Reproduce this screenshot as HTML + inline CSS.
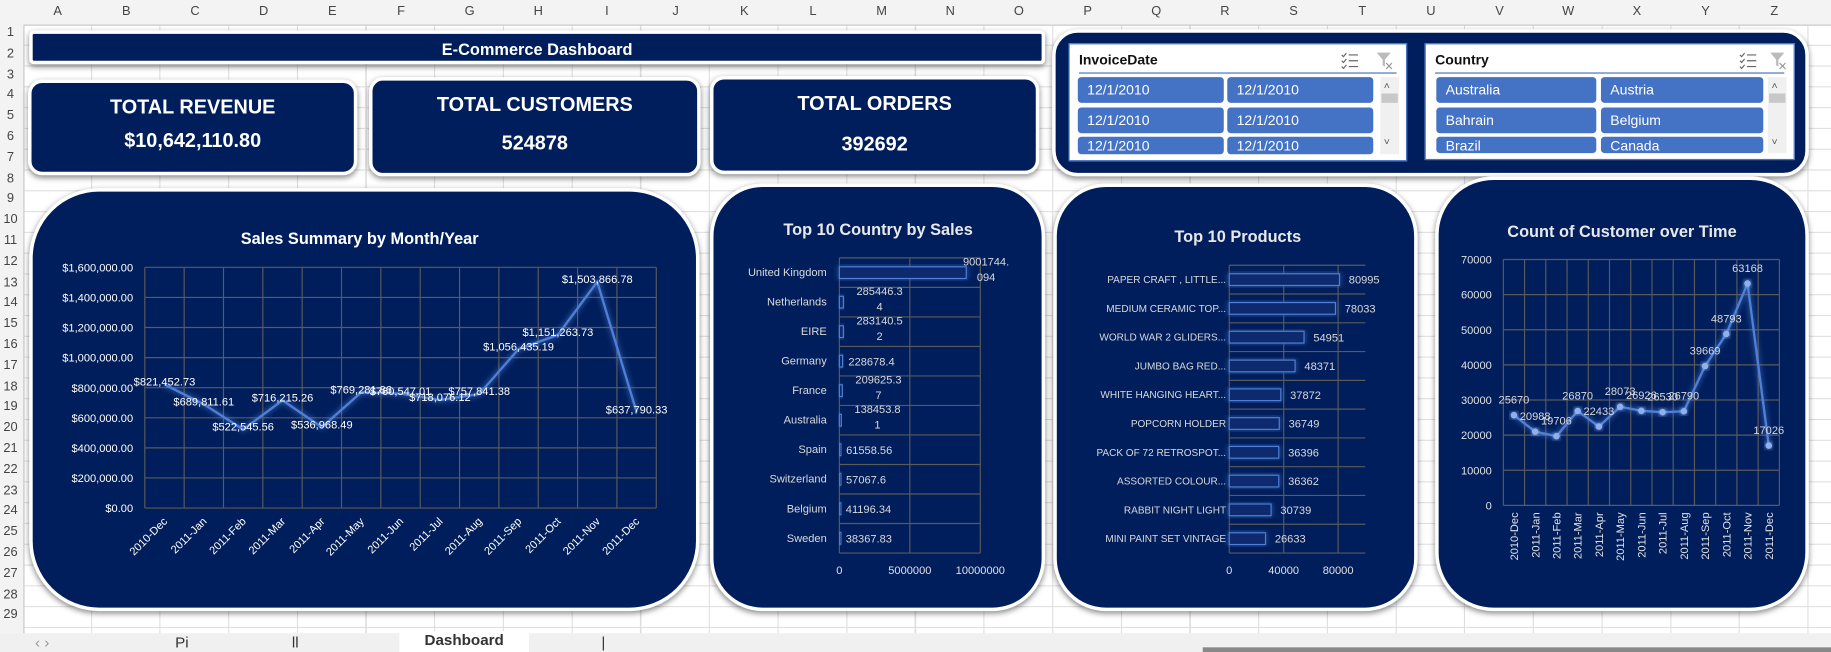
<!DOCTYPE html>
<html><head><meta charset="utf-8"><title>E-Commerce Dashboard</title>
<style>
html,body{margin:0;padding:0;width:1831px;height:652px;overflow:hidden;background:#fff;font-family:"Liberation Sans",Arial,sans-serif;}
#stage{position:absolute;left:0;top:0;width:1568px;height:558px;transform-origin:0 0;transform:scale(1.16773,1.16846);
background-color:#fff;
background-image:repeating-linear-gradient(to right,transparent 0,transparent 57.8px,#dedede 57.8px,#dedede 58.8px),repeating-linear-gradient(to bottom,transparent 0,transparent 16.8px,#dedede 16.8px,#dedede 17.8px);
background-position:20px 21.4px;}
.colhdr{position:absolute;left:0;top:0;width:1568px;height:21px;background:#f3f3f3;border-bottom:1px solid #c8c8c8;}
.colhdr span{position:absolute;top:4px;font-size:11px;color:#444;width:58.8px;text-align:center;}
.rowhdr{position:absolute;left:0;top:21px;width:20px;height:521px;background:#f3f3f3;border-right:1px solid #c8c8c8;}
.rowhdr span{position:absolute;left:0;width:18px;text-align:center;font-size:11px;color:#444;}
.navy{position:absolute;background:#001e5c;border:3px solid #fff;box-shadow:0 2px 5px rgba(0,0,0,.45);box-sizing:border-box;color:#fff;}
.kpi{border-radius:12px;text-align:center;font-weight:bold;}
.kpi .t{position:absolute;left:0;right:0;font-size:17px;}
.slicer{position:absolute;background:#fff;border:1px solid #4472c4;box-sizing:border-box;}
.slicer .h{position:absolute;left:8px;top:6px;font-size:12px;font-weight:bold;color:#111;}
.slicer .ul{position:absolute;left:8px;right:8px;top:24px;height:1px;background:#4472c4;}
.btn{position:absolute;background:#4472c4;color:#fff;font-size:12px;border-radius:3px;box-sizing:border-box;padding:4px 0 0 8px;overflow:hidden;}
.sb{position:absolute;background:#f0f0f0;}
.tabs{position:absolute;left:0;top:542px;width:1568px;height:16px;background:#f0f0f0;}
.tab{position:absolute;top:0;height:16px;font-size:13px;color:#333;}
</style></head>
<body>
<div id="stage">
<div class="colhdr" id="colhdr"></div>
<div class="rowhdr" id="rowhdr"></div>

<div class="navy" style="left:25px;top:26px;width:870px;height:29px;border-radius:4px;">
<div style="position:absolute;left:0;right:0;top:5px;text-align:center;font-size:14px;font-weight:bold;">E-Commerce Dashboard</div></div>

<div class="navy kpi" style="left:24px;top:68px;width:282px;height:82px;">
<div class="t" style="top:11px;">TOTAL REVENUE</div>
<div class="t" style="top:40px;">$10,642,110.80</div></div>
<div class="navy kpi" style="left:316px;top:66px;width:284px;height:85px;">
<div class="t" style="top:11px;">TOTAL CUSTOMERS</div>
<div class="t" style="top:44px;">524878</div></div>
<div class="navy kpi" style="left:608px;top:65px;width:282px;height:84px;">
<div class="t" style="top:11px;">TOTAL ORDERS</div>
<div class="t" style="top:46px;">392692</div></div>

<div class="navy" style="left:901px;top:25px;width:648px;height:126px;border-radius:22px;">
</div>
<div class="slicer" style="left:915px;top:37px;width:290px;height:101px;">
<div class="h">InvoiceDate</div>
<svg style="position:absolute;left:232px;top:7px" width="16" height="14"><g stroke="#666" stroke-width="1"><line x1="7" y1="2" x2="15" y2="2"/><line x1="7" y1="7" x2="15" y2="7"/><line x1="7" y1="12" x2="15" y2="12"/><path d="M1 2l1.5 1.5L5 0.5M1 7l1.5 1.5L5 5.5M1 12l1.5 1.5L5 10.5" fill="none"/></g></svg>
<svg style="position:absolute;left:262px;top:6px" width="16" height="16"><path d="M1 1h12l-5 6v6l-2-1V7z" fill="#bbb"/><path d="M9 10l5 5M14 10l-5 5" stroke="#999"/></svg>
<div class="ul"></div>
<div class="btn" style="left:7px;top:28px;width:125px;height:22px;">12/1/2010</div>
<div class="btn" style="left:135px;top:28px;width:125px;height:22px;">12/1/2010</div>
<div class="btn" style="left:7px;top:54px;width:125px;height:22px;">12/1/2010</div>
<div class="btn" style="left:135px;top:54px;width:125px;height:22px;">12/1/2010</div>
<div class="btn" style="left:7px;top:79px;width:125px;height:15px;padding-top:1px;">12/1/2010</div>
<div class="btn" style="left:135px;top:79px;width:125px;height:15px;padding-top:1px;">12/1/2010</div>
<div class="sb" style="left:266px;top:28px;width:16px;height:66px;"><div style="position:absolute;left:3px;top:2px;font-size:9px;color:#555">˄</div><div style="position:absolute;left:1px;top:14px;width:14px;height:8px;background:#c8c8c8"></div><div style="position:absolute;left:3px;top:50px;font-size:9px;color:#555">˅</div></div>
</div>
<div class="slicer" style="left:1220px;top:37px;width:317px;height:100px;">
<div class="h">Country</div>
<svg style="position:absolute;left:268px;top:7px" width="16" height="14"><g stroke="#666" stroke-width="1"><line x1="7" y1="2" x2="15" y2="2"/><line x1="7" y1="7" x2="15" y2="7"/><line x1="7" y1="12" x2="15" y2="12"/><path d="M1 2l1.5 1.5L5 0.5M1 7l1.5 1.5L5 5.5M1 12l1.5 1.5L5 10.5" fill="none"/></g></svg>
<svg style="position:absolute;left:294px;top:6px" width="16" height="16"><path d="M1 1h12l-5 6v6l-2-1V7z" fill="#bbb"/><path d="M9 10l5 5M14 10l-5 5" stroke="#999"/></svg>
<div class="ul"></div>
<div class="btn" style="left:9px;top:28px;width:137px;height:22px;">Australia</div>
<div class="btn" style="left:150px;top:28px;width:139px;height:22px;">Austria</div>
<div class="btn" style="left:9px;top:54px;width:137px;height:22px;">Bahrain</div>
<div class="btn" style="left:150px;top:54px;width:139px;height:22px;">Belgium</div>
<div class="btn" style="left:9px;top:79px;width:137px;height:14px;padding-top:1px;">Brazil</div>
<div class="btn" style="left:150px;top:79px;width:139px;height:14px;padding-top:1px;">Canada</div>
<div class="sb" style="left:293px;top:28px;width:16px;height:65px;"><div style="position:absolute;left:3px;top:2px;font-size:9px;color:#555">˄</div><div style="position:absolute;left:1px;top:14px;width:14px;height:8px;background:#c8c8c8"></div><div style="position:absolute;left:3px;top:50px;font-size:9px;color:#555">˅</div></div>
</div>

<div class="navy" style="left:25px;top:161px;width:574px;height:362px;border-radius:60px;"></div>
<div class="navy" style="left:608px;top:157px;width:287px;height:366px;border-radius:45px;"></div>
<div class="navy" style="left:902px;top:157px;width:312px;height:366px;border-radius:45px;"></div>
<div class="navy" style="left:1229px;top:151px;width:320px;height:372px;border-radius:50px;"></div>

<svg id="charts" width="1568" height="558" style="position:absolute;left:0;top:0;font-family:'Liberation Sans',Arial,sans-serif;">
<defs><filter id="glow" x="-20%" y="-20%" width="140%" height="140%"><feGaussianBlur stdDeviation="2.5" result="b"/><feMerge><feMergeNode in="b"/><feMergeNode in="SourceGraphic"/></feMerge></filter></defs>
</svg>

<div class="tabs">
<div class="tab" style="left:30px;color:#999">‹ ›</div>
<div class="tab" style="left:150px;">Pi</div>
<div class="tab" style="left:250px;">ll</div>
<div class="tab" style="left:342px;width:111px;background:#fff;font-weight:bold;text-align:center;top:-2px;height:18px;">Dashboard</div>
<div class="tab" style="left:515px;">|</div>
<div style="position:absolute;left:1030px;top:12px;width:538px;height:4px;background:#888;"></div>
</div>
</div>

<script>
// ---- Chart 1: Sales Summary by Month/Year ----
const salesMonths = ["2010-Dec","2011-Jan","2011-Feb","2011-Mar","2011-Apr","2011-May","2011-Jun","2011-Jul","2011-Aug","2011-Sep","2011-Oct","2011-Nov","2011-Dec"];
const salesValues = [821452.73,689811.61,522545.56,716215.26,536968.49,769281.86,760547.01,718076.12,757841.38,1056435.19,1151263.73,1503866.78,637790.33];
const salesTicks = [0,200000,400000,600000,800000,1000000,1200000,1400000,1600000];
// ---- Chart 2: Top 10 Country by Sales ----
const countryNames = ["United Kingdom","Netherlands","EIRE","Germany","France","Australia","Spain","Switzerland","Belgium","Sweden"];
const countrySales = [9001744.094,285446.34,283140.52,228678.4,209625.37,138453.81,61558.56,57067.6,41196.34,38367.83];
const countryLabels = [["9001744.","094"],["285446.3","4"],["283140.5","2"],["228678.4"],["209625.3","7"],["138453.8","1"],["61558.56"],["57067.6"],["41196.34"],["38367.83"]];
const countryTicks = [0,5000000,10000000];
// ---- Chart 3: Top 10 Products ----
const productNames = ["PAPER CRAFT , LITTLE...","MEDIUM CERAMIC TOP...","WORLD WAR 2 GLIDERS...","JUMBO BAG RED...","WHITE HANGING HEART...","POPCORN HOLDER","PACK OF 72 RETROSPOT...","ASSORTED COLOUR...","RABBIT NIGHT LIGHT","MINI PAINT SET VINTAGE"];
const productQty = [80995,78033,54951,48371,37872,36749,36396,36362,30739,26633];
const productTicks = [0,40000,80000];
// ---- Chart 4: Count of Customer over Time ----
const custMonths = ["2010-Dec","2011-Jan","2011-Feb","2011-Mar","2011-Apr","2011-May","2011-Jun","2011-Jul","2011-Aug","2011-Sep","2011-Oct","2011-Nov","2011-Dec"];
const custCounts = [25670,20988,19706,26870,22433,28073,26926,26530,26790,39669,48793,63168,17026];
const custTicks = [0,10000,20000,30000,40000,50000,60000,70000];

const NS="http://www.w3.org/2000/svg";
const svg=document.getElementById('charts');
function mk(tag,attrs,parent){const e=document.createElementNS(NS,tag);for(const k in attrs)e.setAttribute(k,attrs[k]);(parent||svg).appendChild(e);return e;}
function txt(s,attrs,parent){const e=mk('text',attrs,parent);e.textContent=s;return e;}
const GRID="#5a5a5a", LBL="#d9d9d9", LINE="#4f7fd6";
function fmt$(v){return "$"+v.toLocaleString("en-US",{minimumFractionDigits:2,maximumFractionDigits:2});}

// headers
(function(){
 const ch=document.getElementById('colhdr');
 const cols="A B C D E F G H I J K L M N O P Q R S T U V W X Y Z AA".split(" ");
 cols.forEach((c,i)=>{const s=document.createElement('span');s.textContent=c;s.style.left=(20+i*58.8)+'px';
 
 
 ch.appendChild(s);});
 const rh=document.getElementById('rowhdr');
 for(let r=1;r<=29;r++){const s=document.createElement('span');s.textContent=r;s.style.top=(1+(r-1)*17.8)+'px';
 
 
 rh.appendChild(s);}
})();

// Chart 1
(function(){
 const g=mk('g',{});
 
 
 const L=124,R=562,T=228.8,B=434.8,max=1600000;
 const y=v=>B-(v/max)*(B-T), bw=(R-L)/salesMonths.length, x=i=>L+bw*(i+0.5);
 const t=txt('Sales Summary by Month/Year',{x:308,y:209,'text-anchor':'middle','font-size':14,'font-weight':'bold',fill:'#fff'},g);
 
 
 salesTicks.forEach(v=>{mk('line',{x1:L,x2:R,y1:y(v),y2:y(v),stroke:GRID,'stroke-width':1},g);
  const l=txt(fmt$(v),{x:114,y:y(v)+3.5,'text-anchor':'end','font-size':9.5,fill:'#fff'},g);
  
  });
 for(let i=0;i<=salesMonths.length;i++)mk('line',{x1:L+bw*i,x2:L+bw*i,y1:T,y2:B,stroke:GRID,'stroke-width':1},g);
 salesMonths.forEach((m,i)=>{const l=txt(m,{x:0,y:0,'text-anchor':'end','font-size':9.5,fill:'#fff',transform:`translate(${x(i)+3},${B+12}) rotate(-45)`},g);
  
  });
 const pts=salesValues.map((v,i)=>x(i)+','+y(v)).join(' ');
 const pl=mk('polyline',{points:pts,fill:'none',stroke:LINE,'stroke-width':2,filter:'url(#glow)'},g);
 
 
 salesValues.forEach((v,i)=>{const l=txt(fmt$(v),{x:x(i),y:y(v)+1,'text-anchor':'middle','font-size':9.5,fill:'#fff'},g);
  
  });
})();

// Chart 2
(function(){
 const g=mk('g',{});
 
 
 const L=718.8,R=839.5,T=220.7,B=473.3,max=10000000;
 const x=v=>L+(v/max)*(R-L), bh=(B-T)/countryNames.length, yc=i=>T+bh*(i+0.5);
 const t=txt('Top 10 Country by Sales',{x:752,y:201,'text-anchor':'middle','font-size':14,'font-weight':'bold',fill:'#e8e8e8'},g);
 
 
 for(let i=0;i<=countryNames.length;i++)mk('line',{x1:L,x2:R,y1:T+bh*i,y2:T+bh*i,stroke:GRID},g);
 countryTicks.forEach(v=>{mk('line',{x1:x(v),x2:x(v),y1:T,y2:B,stroke:GRID},g);
  const l=txt(String(v),{x:x(v),y:B+18,'text-anchor':'middle','font-size':9.5,fill:'#e0e0e0'},g);
  
  });
 countryNames.forEach((n,i)=>{const l=txt(n,{x:708,y:yc(i)+3,'text-anchor':'end','font-size':9.5,fill:LBL},g);
  
  
  const w=Math.max(1.5,x(countrySales[i])-L);
  const r=mk('rect',{x:L,y:yc(i)-5,width:w,height:10,fill:'#0c2a6e',stroke:LINE,'stroke-width':1,filter:'url(#glow)'},g);
  
  
  const lines=countryLabels[i];const lx=x(countrySales[i])+ (i===0?-1:5);
  lines.forEach((s,k)=>{const tx=txt(s,{x:lines.length>1?(i===0?lx+18:lx+26):lx,y:(lines.length>1?yc(i)-6+k*13:yc(i)+3.5),'text-anchor':lines.length>1?'middle':'start','font-size':9.5,fill:LBL},g);
   
   });
 });
})();

// Chart 3
(function(){
 const g=mk('g',{});
 
 
 const L=1052.7,R=1169.2,T=227,B=473.3,max=100000;
 const x=v=>L+(v/max)*(R-L), bh=(B-T)/productNames.length, yc=i=>T+bh*(i+0.5);
 const t=txt('Top 10 Products',{x:1060,y:207,'text-anchor':'middle','font-size':14,'font-weight':'bold',fill:'#e8e8e8'},g);
 
 
 for(let i=0;i<=productNames.length;i++)mk('line',{x1:L,x2:R,y1:T+bh*i,y2:T+bh*i,stroke:GRID},g);
 productTicks.forEach(v=>{mk('line',{x1:x(v),x2:x(v),y1:T,y2:B,stroke:GRID},g);
  const l=txt(String(v),{x:x(v),y:B+18,'text-anchor':'middle','font-size':9.5,fill:'#e0e0e0'},g);
  
  });
 productNames.forEach((n,i)=>{const l=txt(n,{x:1050,y:yc(i)+3,'text-anchor':'end','font-size':8.6,fill:LBL},g);
  
  
  const r=mk('rect',{x:L,y:yc(i)-5,width:x(productQty[i])-L,height:10,fill:'#0c2a6e',stroke:LINE,'stroke-width':1,filter:'url(#glow)'},g);
  
  
  const d=txt(String(productQty[i]),{x:x(productQty[i])+8,y:yc(i)+3.5,'font-size':9.5,fill:LBL},g);
  
  });
})();

// Chart 4
(function(){
 const g=mk('g',{});
 
 
 const L=1287.4,R=1523.8,T=222.1,B=432.5,max=70000;
 const y=v=>B-(v/max)*(B-T), bw=(R-L)/custMonths.length, x=i=>L+bw*(i+0.5);
 const t=txt('Count of Customer over Time',{x:1389,y:203,'text-anchor':'middle','font-size':14,'font-weight':'bold',fill:'#e8e8e8'},g);
 
 
 custTicks.forEach(v=>{mk('line',{x1:L,x2:R,y1:y(v),y2:y(v),stroke:GRID},g);
  const l=txt(String(v),{x:1277.5,y:y(v)+3.5,'text-anchor':'end','font-size':9.5,fill:'#e0e0e0'},g);
  
  });
 for(let i=0;i<=custMonths.length;i++)mk('line',{x1:L+bw*i,x2:L+bw*i,y1:T,y2:B,stroke:GRID},g);
 custMonths.forEach((m,i)=>{const l=txt(m,{x:0,y:0,'text-anchor':'end','font-size':9.5,fill:'#e0e0e0',transform:`translate(${x(i)+3.5},${B+6}) rotate(-90)`},g);
  
  });
 const pl=mk('polyline',{points:custCounts.map((v,i)=>x(i)+','+y(v)).join(' '),fill:'none',stroke:LINE,'stroke-width':2,filter:'url(#glow)'},g);
 
 
 custCounts.forEach((v,i)=>{const c=mk('circle',{cx:x(i),cy:y(v),r:2.8,fill:'#8fb0ee',filter:'url(#glow)'},g);
  
  
  const l=txt(String(v),{x:x(i),y:y(v)-10,'text-anchor':'middle','font-size':9.5,fill:LBL},g);
  
  });
})();
</script>
</body></html>
